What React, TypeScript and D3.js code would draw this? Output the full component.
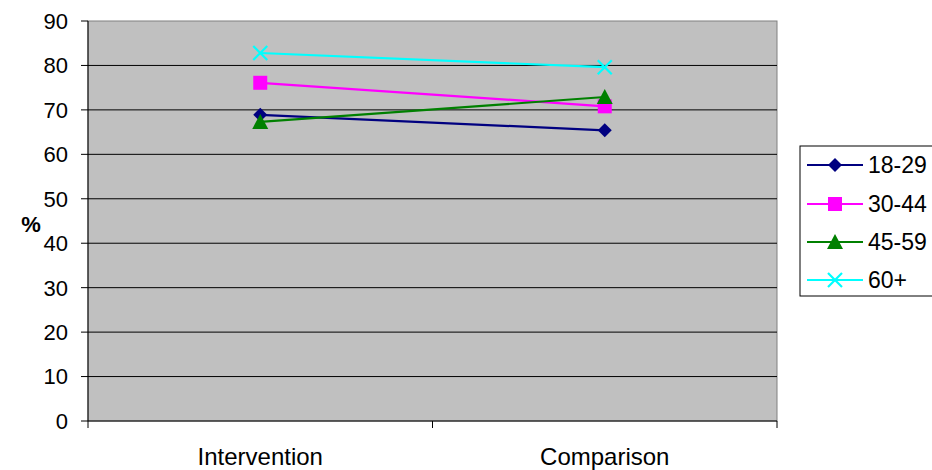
import React from "react";
import * as d3 from "d3";

const categories = ["Intervention", "Comparison"];
const seriesNames = ["18-29", "30-44", "45-59", "60+"];
const v1829 = [68.9, 65.4];
const v3044 = [76.1, 70.8];
const v4559 = [67.3, 72.9];
const v60 = [82.8, 79.6];
const yTicks = [0, 10, 20, 30, 40, 50, 60, 70, 80, 90];
const colors = ["#000080", "#FF00FF", "#008000", "#00FFFF"];
const markers = ["diamond", "square", "triangle", "x"];

const W = 932, H = 470;
const L = 88, R = 777, T = 21, B = 421;
const FONT = "Liberation Sans, Arial, sans-serif";

function Marker({ type, x, y, color }: { type: string; x: number; y: number; color: string }) {
  if (type === "diamond") {
    const s = 7;
    return <path d={`M${x},${y - s}L${x + s},${y}L${x},${y + s}L${x - s},${y}Z`} fill={color} />;
  }
  if (type === "square") {
    const s = 7;
    return <rect x={x - s} y={y - s} width={2 * s} height={2 * s} fill={color} />;
  }
  if (type === "triangle") {
    const s = 8;
    return <path d={`M${x},${y - s}L${x + s},${y + s - 1}L${x - s},${y + s - 1}Z`} fill={color} />;
  }
  const s = 7;
  return (
    <path d={`M${x - s},${y - s}L${x + s},${y + s}M${x - s},${y + s}L${x + s},${y - s}`} stroke={color} strokeWidth={2.2} fill="none" />
  );
}

export default function App() {
  const data = [v1829, v3044, v4559, v60];
  const y = d3.scaleLinear().domain([0, 90]).range([B, T]);
  const xBand = d3.scaleBand().domain(categories).range([L, R]).padding(0);
  const xc = (c: string) => (xBand(c) as number) + xBand.bandwidth() / 2;
  const line = d3.line<[number, number]>().x((d) => d[0]).y((d) => d[1]);

  const legendTop = 146;
  const legendRowY = [165, 204, 242, 280];

  return (
    <svg width={W} height={H} style={{ position: "absolute", left: 0, top: 0, background: "#fff" }} fontFamily={FONT}>
      <rect x={L} y={T} width={R - L} height={B - T} fill="#C0C0C0" stroke="#808080" strokeWidth={1} />
      {yTicks.map((t) => (
        <g key={t}>
          {t > 0 && t < 90 && <line x1={L} x2={R} y1={y(t)} y2={y(t)} stroke="#000" strokeWidth={1} />}
          <line x1={L - 7} x2={L} y1={y(t)} y2={y(t)} stroke="#000" strokeWidth={1} />
          <text x={68} y={y(t)} dy="0.36em" textAnchor="end" fontSize={22} fill="#000">
            {t}
          </text>
        </g>
      ))}
      <line x1={L} x2={L} y1={T} y2={B} stroke="#000" strokeWidth={1} />
      <line x1={L} x2={R} y1={B} y2={B} stroke="#000" strokeWidth={1} />
      {[L, ...categories.map((c) => (xBand(c) as number) + xBand.bandwidth())].map((xx, i) => (
        <line key={i} x1={xx} x2={xx} y1={B} y2={B + 7} stroke="#000" strokeWidth={1} />
      ))}
      {categories.map((c) => (
        <text key={c} x={xc(c)} y={465} textAnchor="middle" fontSize={24} fill="#000">
          {c}
        </text>
      ))}
      <text x={31} y={224} dy="0.36em" textAnchor="middle" fontSize={22} fontWeight="bold" fill="#000">
        %
      </text>
      {data.map((vals, si) => {
        const pts: [number, number][] = vals.map((v, i) => [xc(categories[i]), y(v)]);
        return (
          <g key={si}>
            <path d={line(pts) as string} stroke={colors[si]} strokeWidth={2.2} fill="none" />
            {pts.map((p, i) => (
              <Marker key={i} type={markers[si]} x={p[0]} y={p[1]} color={colors[si]} />
            ))}
          </g>
        );
      })}
      <rect x={800} y={legendTop} width={150} height={150} fill="#fff" stroke="#000" strokeWidth={1} />
      {seriesNames.map((n, i) => (
        <g key={n}>
          <line x1={807} x2={863} y1={legendRowY[i]} y2={legendRowY[i]} stroke={colors[i]} strokeWidth={2.2} />
          <Marker type={markers[i]} x={835} y={legendRowY[i]} color={colors[i]} />
          <text x={868} y={legendRowY[i]} dy="0.36em" fontSize={23} fill="#000">
            {n}
          </text>
        </g>
      ))}
    </svg>
  );
}
